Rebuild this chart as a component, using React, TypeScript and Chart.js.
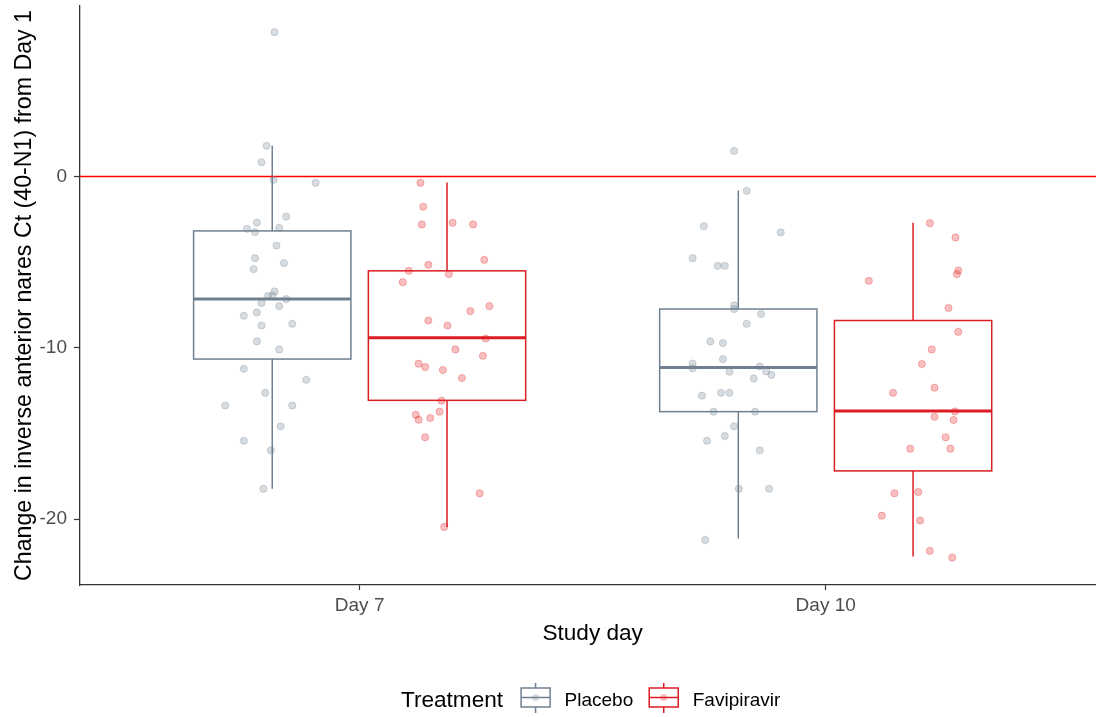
import React, { useEffect, useRef } from 'react';
import { Chart, registerables } from 'chart.js';

Chart.register(...registerables);

const FONT = "'Liberation Sans', Arial, sans-serif";

const days = ['Day 7', 'Day 10'];
const treatments = ['Placebo', 'Favipiravir'];
const yTicks = [-20, -10, 0];

// box statistics, one entry per study day
const placeboLower = [-18.23, -21.14];
const placeboQ1 = [-10.66, -13.73];
const placeboMedian = [-7.15, -11.15];
const placeboQ3 = [-3.18, -7.74];
const placeboUpper = [1.79, -0.82];

const faviLower = [-20.46, -22.19];
const faviQ1 = [-13.07, -17.19];
const faviMedian = [-9.42, -13.69];
const faviQ3 = [-5.51, -8.41];
const faviUpper = [-0.36, -2.71];

// jittered observations (value, horizontal jitter in category units)
const placeboDay7 = [
  8.42, 1.79, 0.83, -0.2, -0.37, -2.34, -2.69, -3.06, -3.25, -3.0, -4.03, -4.77,
  -5.06, -5.41, -6.71, -6.97, -6.95, -7.16, -7.39, -7.57, -7.94, -8.13, -8.7, -8.6,
  -9.63, -10.1, -11.23, -11.87, -12.63, -13.37, -13.37, -14.59, -15.43, -15.99, -18.23
];
const placeboDay7Jitter = [
  0.005, -0.012, -0.023, 0.003, 0.093, 0.03, -0.033, -0.054, -0.037, 0.015, 0.009, -0.037,
  0.025, -0.04, 0.005, -0.009, 0.001, 0.03, -0.023, 0.015, -0.033, -0.061, -0.023, 0.043,
  -0.033, 0.015, -0.061, 0.073, -0.015, -0.101, 0.043, 0.018, -0.061, -0.003, -0.019
];

const faviDay7 = [
  -0.37, -1.77, -2.8, -2.71, -2.8, -4.87, -5.16, -5.51, -5.7, -6.17, -7.57, -7.86,
  -8.41, -8.7, -9.46, -10.1, -10.47, -10.93, -11.13, -11.3, -11.77, -13.09, -13.91, -14.2,
  -14.1, -13.73, -15.23, -18.5, -20.46
];
const faviDay7Jitter = [
  -0.057, -0.051, -0.054, 0.012, 0.056, 0.08, -0.04, -0.082, 0.004, -0.095, 0.091, 0.05,
  -0.04, 0.001, 0.083, 0.018, 0.077, -0.061, -0.047, -0.009, 0.032, -0.012, -0.067, -0.061,
  -0.036, -0.016, -0.047, 0.07, -0.006
];

const placeboDay10 = [
  1.49, -0.84, -2.9, -3.27, -4.77, -5.22, -5.22, -7.53, -7.74, -8.03, -8.6, -9.63,
  -9.73, -10.66, -10.92, -11.2, -11.09, -11.4, -11.38, -11.59, -11.79, -12.8, -12.63, -12.63,
  -13.73, -13.73, -14.59, -15.15, -15.43, -15.99, -18.23, -18.23, -21.22
];
const placeboDay10Jitter = [
  -0.009, 0.018, -0.074, 0.091, -0.098, -0.044, -0.029, -0.009, -0.009, 0.049, 0.018, -0.06,
  -0.033, -0.033, -0.098, -0.098, 0.046, -0.019, 0.06, 0.071, 0.033, -0.078, -0.037, -0.019,
  -0.053, 0.036, -0.009, -0.029, -0.067, 0.046, 0.001, 0.066, -0.071
];

const faviDay10 = [
  -2.73, -3.56, -5.49, -5.7, -6.09, -7.68, -9.07, -10.1, -10.95, -12.63, -12.33, -13.72,
  -14.03, -14.22, -15.23, -15.89, -15.89, -18.5, -18.42, -19.8, -20.09, -21.86, -22.25
];
const faviDay10Jitter = [
  0.036, 0.091, 0.097, 0.094, -0.095, 0.076, 0.097, 0.04, 0.019, -0.043, 0.046, 0.09,
  0.046, 0.087, 0.07, -0.006, 0.08, -0.04, 0.011, -0.067, 0.015, 0.036, 0.084
];

const lineColors = ['#708090', '#DC1C22'];
const pointColors = ['rgba(112,128,144,0.28)', 'rgba(228,26,28,0.28)'];
const dodge = [-0.1875, 0.1875];
const halfBox = 0.16875;

const boxStats = [
  { lower: placeboLower, q1: placeboQ1, median: placeboMedian, q3: placeboQ3, upper: placeboUpper },
  { lower: faviLower, q1: faviQ1, median: faviMedian, q3: faviQ3, upper: faviUpper }
];

const observations = [
  [[placeboDay7, placeboDay7Jitter], [placeboDay10, placeboDay10Jitter]],
  [[faviDay7, faviDay7Jitter], [faviDay10, faviDay10Jitter]]
];

const drawGlyph = (ctx: CanvasRenderingContext2D, left: number, g: number) => {
  const w = 29;
  const top = 688;
  const bottom = 707;
  const mid = left + w / 2;

  ctx.strokeStyle = lineColors[g];
  ctx.lineWidth = 1.5;
  ctx.beginPath();
  ctx.moveTo(mid, 683);
  ctx.lineTo(mid, top);
  ctx.moveTo(mid, bottom);
  ctx.lineTo(mid, 713);
  ctx.stroke();
  ctx.strokeRect(left, top, w, bottom - top);
  ctx.beginPath();
  ctx.moveTo(left, (top + bottom) / 2);
  ctx.lineTo(left + w, (top + bottom) / 2);
  ctx.stroke();
  ctx.fillStyle = pointColors[g];
  ctx.beginPath();
  ctx.arc(mid, (top + bottom) / 2, 3.5, 0, Math.PI * 2);
  ctx.fill();
};

const boxPlugin = {
  id: 'boxes',
  beforeDatasetsDraw (chart: any) {
    const { ctx, chartArea, scales: { x, y } } = chart;

    ctx.save();
    boxStats.forEach((s, g) => {
      days.forEach((_, i) => {
        const c = i + 1 + dodge[g];
        const left = x.getPixelForValue(c - halfBox);
        const right = x.getPixelForValue(c + halfBox);
        const mid = x.getPixelForValue(c);
        const q1 = y.getPixelForValue(s.q1[i]);
        const q3 = y.getPixelForValue(s.q3[i]);
        const med = y.getPixelForValue(s.median[i]);

        ctx.strokeStyle = lineColors[g];
        ctx.lineWidth = 1.5;
        ctx.beginPath();
        ctx.moveTo(mid, y.getPixelForValue(s.upper[i]));
        ctx.lineTo(mid, q3);
        ctx.moveTo(mid, q1);
        ctx.lineTo(mid, y.getPixelForValue(s.lower[i]));
        ctx.stroke();
        ctx.strokeRect(left, q3, right - left, q1 - q3);
        ctx.lineWidth = 3;
        ctx.beginPath();
        ctx.moveTo(left, med);
        ctx.lineTo(right, med);
        ctx.stroke();
      });
    });

    const y0 = y.getPixelForValue(0);

    ctx.strokeStyle = '#FF0000';
    ctx.lineWidth = 1.4;
    ctx.beginPath();
    ctx.moveTo(chartArea.left, y0);
    ctx.lineTo(chartArea.right, y0);
    ctx.stroke();
    ctx.restore();
  },
  afterDraw (chart: any) {
    const { ctx, chartArea, scales: { x } } = chart;
    const centerX = x.getPixelForValue(1.5);

    ctx.save();
    ctx.fillStyle = '#000000';
    ctx.font = `22.6px ${FONT}`;
    ctx.textAlign = 'center';
    ctx.textBaseline = 'alphabetic';
    ctx.fillText('Study day', centerX, 640);

    ctx.save();
    ctx.font = `23.2px ${FONT}`;
    ctx.translate(31, (chartArea.top + chartArea.bottom) / 2);
    ctx.rotate(-Math.PI / 2);
    ctx.fillText('Change in inverse anterior nares Ct (40-N1) from Day 1', 0, 0);
    ctx.restore();

    // legend
    const titleW = ctx.measureText('Treatment').width;

    ctx.font = `19px ${FONT}`;
    const labelW = treatments.map((t) => ctx.measureText(t).width);
    const total = titleW + 18 + labelW.reduce((a, w) => a + 29 + 14.5 + w, 0) + 16;
    let cursor = centerX - total / 2 - 2;

    ctx.textAlign = 'left';
    ctx.font = `22.6px ${FONT}`;
    ctx.fillText('Treatment', cursor, 706.5);
    cursor += titleW + 18;
    ctx.font = `19px ${FONT}`;
    treatments.forEach((t, g) => {
      drawGlyph(ctx, cursor, g);
      cursor += 29 + 14.5;
      ctx.fillStyle = '#000000';
      ctx.fillText(t, cursor, 705.5);
      cursor += labelW[g] + 16;
    });
    ctx.restore();
  }
};

const App = () => {
  const chartRef = useRef<HTMLCanvasElement>(null);

  useEffect(() => {
    document.body.style.margin = '0';

    const datasets = treatments.map((t, g) => ({
      type: 'scatter' as const,
      label: t,
      data: observations[g].flatMap(([values, jitter], i) =>
        values.map((v, k) => ({ x: i + 1 + dodge[g] + jitter[k], y: v }))),
      backgroundColor: pointColors[g],
      borderColor: pointColors[g],
      borderWidth: 1,
      pointRadius: 3.6,
      clip: false as const
    }));

    const chart = new Chart(chartRef.current!, {
      type: 'scatter',
      data: { datasets },
      options: {
        animation: false,
        responsive: false,
        events: [],
        layout: { autoPadding: false, padding: { top: 6, right: 0, bottom: 0, left: 0 } },
        plugins: { legend: { display: false }, tooltip: { enabled: false } },
        scales: {
          x: {
            type: 'linear',
            min: 0.4,
            max: 2.58,
            afterFit: (s: any) => {
              s.height = 132;
              s.paddingLeft = 0;
              s.paddingRight = 0;
            },
            afterBuildTicks: (s: any) => { s.ticks = days.map((_, i) => ({ value: i + 1 })); },
            ticks: {
              callback: (v: any) => days[Number(v) - 1] ?? '',
              color: '#4D4D4D',
              font: { family: FONT, size: 19 },
              padding: 4,
              maxRotation: 0
            },
            grid: { drawOnChartArea: false, drawTicks: true, tickLength: 5, tickColor: '#333333', tickWidth: 1.2 },
            border: { display: true, color: '#333333', width: 1.3 }
          },
          y: {
            type: 'linear',
            min: -23.85,
            max: 9.95,
            afterFit: (s: any) => {
              s.width = 80;
              s.paddingTop = 0;
              s.paddingBottom = 0;
            },
            afterBuildTicks: (s: any) => { s.ticks = yTicks.map((v) => ({ value: v })); },
            ticks: {
              color: '#4D4D4D',
              font: { family: FONT, size: 19 },
              padding: 7
            },
            grid: { drawOnChartArea: false, drawTicks: true, tickLength: 6, tickColor: '#333333', tickWidth: 1.2 },
            border: { display: true, color: '#333333', width: 1.3 }
          }
        }
      },
      plugins: [boxPlugin]
    });

    return () => {
      chart.destroy();
    };
  }, []);

  return (
    <div style={{ width: 1096, height: 717 }}>
      <canvas ref={chartRef} width={1096} height={717} />
    </div>
  );
};

export default App;
